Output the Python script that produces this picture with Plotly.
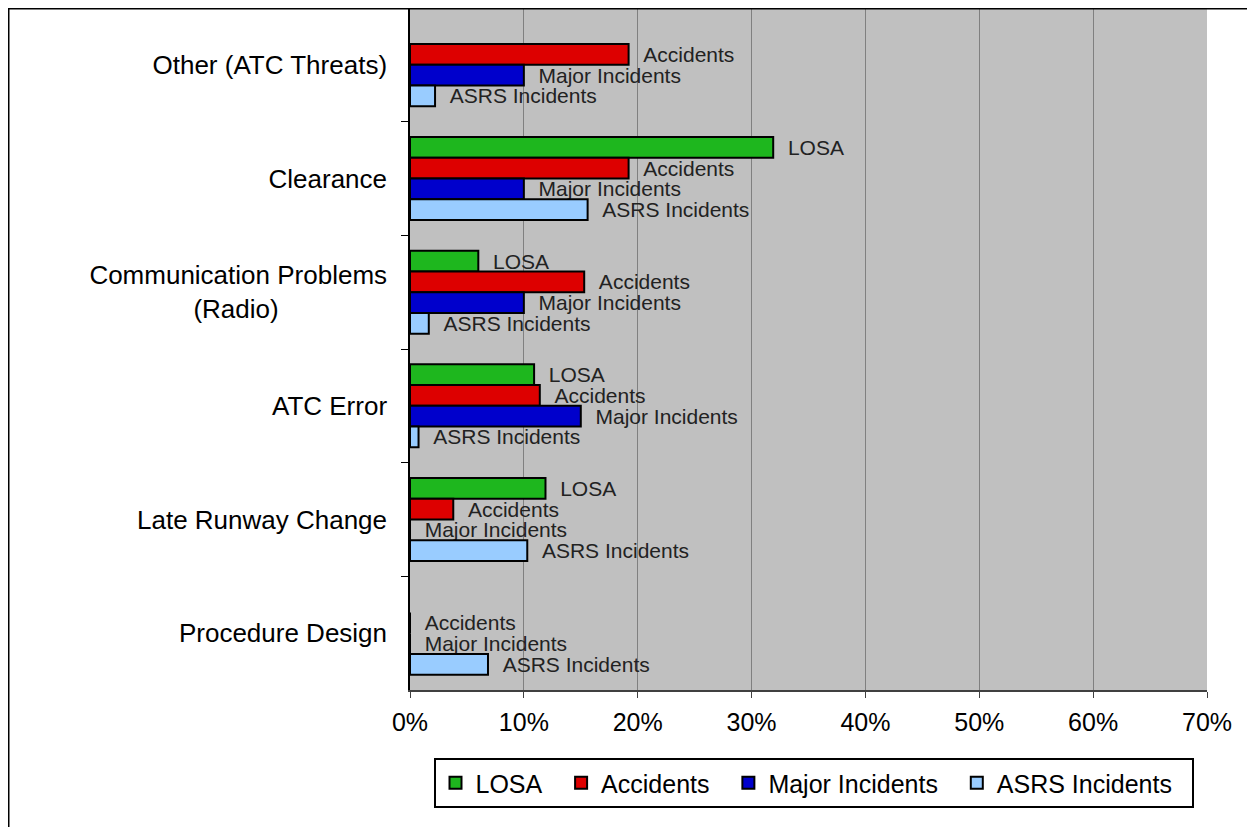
import plotly.graph_objects as go

# ---- data ----
categories = [
    "Other (ATC Threats)",
    "Clearance",
    "Communication Problems<br>(Radio)" + "\u00a0" * 15,
    "ATC Error",
    "Late Runway Change",
    "Procedure Design",
]
series_names = ["LOSA", "Accidents", "Major Incidents", "ASRS Incidents"]
losa = [None, 31.9, 6.0, 10.9, 11.9, None]
accidents = [19.2, 19.2, 15.3, 11.4, 3.8, 0.0]
major_incidents = [10.0, 10.0, 10.0, 15.0, 0.0, 0.0]
asrs_incidents = [2.2, 15.6, 1.65, 0.75, 10.3, 6.85]
x_ticks = [0, 10, 20, 30, 40, 50, 60, 70]
x_tick_labels = [f"{v}%" for v in x_ticks]

series_values = [losa, accidents, major_incidents, asrs_incidents]
colors = ["#1EB71E", "#DD0000", "#0000CC", "#99CCFF"]

FONT = "Liberation Sans, Arial, sans-serif"
# page has an 8px body margin; figure starts at page (8, 8)
OFF = 8
W, H = 1255 - OFF, 827 - OFF
L, R, T, B = 410 - OFF, 48, 0, 137

fig = go.Figure()
for name, vals, col in zip(series_names, series_values, colors):
    labels = [None if v is None else "\u00a0\u00a0" + name for v in vals]
    fig.add_trace(go.Bar(
        y=categories,
        x=vals,
        orientation="h",
        name=name + "\u00a0\u00a0",
        marker=dict(color=col, line=dict(color="black", width=2)),
        text=labels,
        textposition="outside",
        constraintext="none",
        cliponaxis=False,
        textfont=dict(family=FONT, size=21, color="#222222"),
        hoverinfo="x+y+name",
    ))

pw = W - L - R
ph = H - T - B
def px_x(p):  # page px -> paper
    return (p - OFF - L) / pw
def px_y(p):
    return (H - B - (p - OFF)) / ph

fig.update_layout(
    width=W, height=H,
    margin=dict(l=L, r=R, t=T, b=B, pad=0),
    paper_bgcolor="white",
    plot_bgcolor="#C0C0C0",
    barmode="group",
    bargap=0.27,
    bargroupgap=0,
    font=dict(family=FONT, color="black"),
    showlegend=True,
    legend=dict(
        orientation="h",
        x=px_x(813.5), xanchor="center",
        y=px_y(758), yanchor="top",
        bordercolor="black", borderwidth=2,
        bgcolor="white",
        font=dict(family=FONT, size=25, color="black"),
        traceorder="normal",
    ),
    xaxis=dict(
        range=[0, 70],
        tickmode="array",
        tickvals=x_ticks,
        ticktext=x_tick_labels,
        showgrid=True, gridcolor="#808080", gridwidth=1,
        zeroline=False,
        showline=True, linecolor="#404040", linewidth=1.5,
        ticks="outside", ticklen=6, tickcolor="#404040",
        ticklabelstandoff=3,
        tickfont=dict(family=FONT, size=25, color="black"),
        fixedrange=True,
    ),
    yaxis=dict(
        autorange="reversed",
        showgrid=False,
        showline=True, linecolor="black", linewidth=1.5,
        ticks="outside", ticklen=7, tickcolor="black",
        tickson="boundaries",
        ticklabelstandoff=16,
        tickfont=dict(family=FONT, size=26, color="black"),
        fixedrange=True,
    ),
    shapes=[
        dict(type="line", xref="paper", yref="paper",
             x0=px_x(8.5), x1=px_x(8.5), y0=px_y(900), y1=px_y(7.5),
             line=dict(color="black", width=2)),
        dict(type="line", xref="paper", yref="paper",
             x0=px_x(7.5), x1=px_x(1300), y0=px_y(8.5), y1=px_y(8.5),
             line=dict(color="black", width=2)),
    ],
)

fig.write_html("out.html")
